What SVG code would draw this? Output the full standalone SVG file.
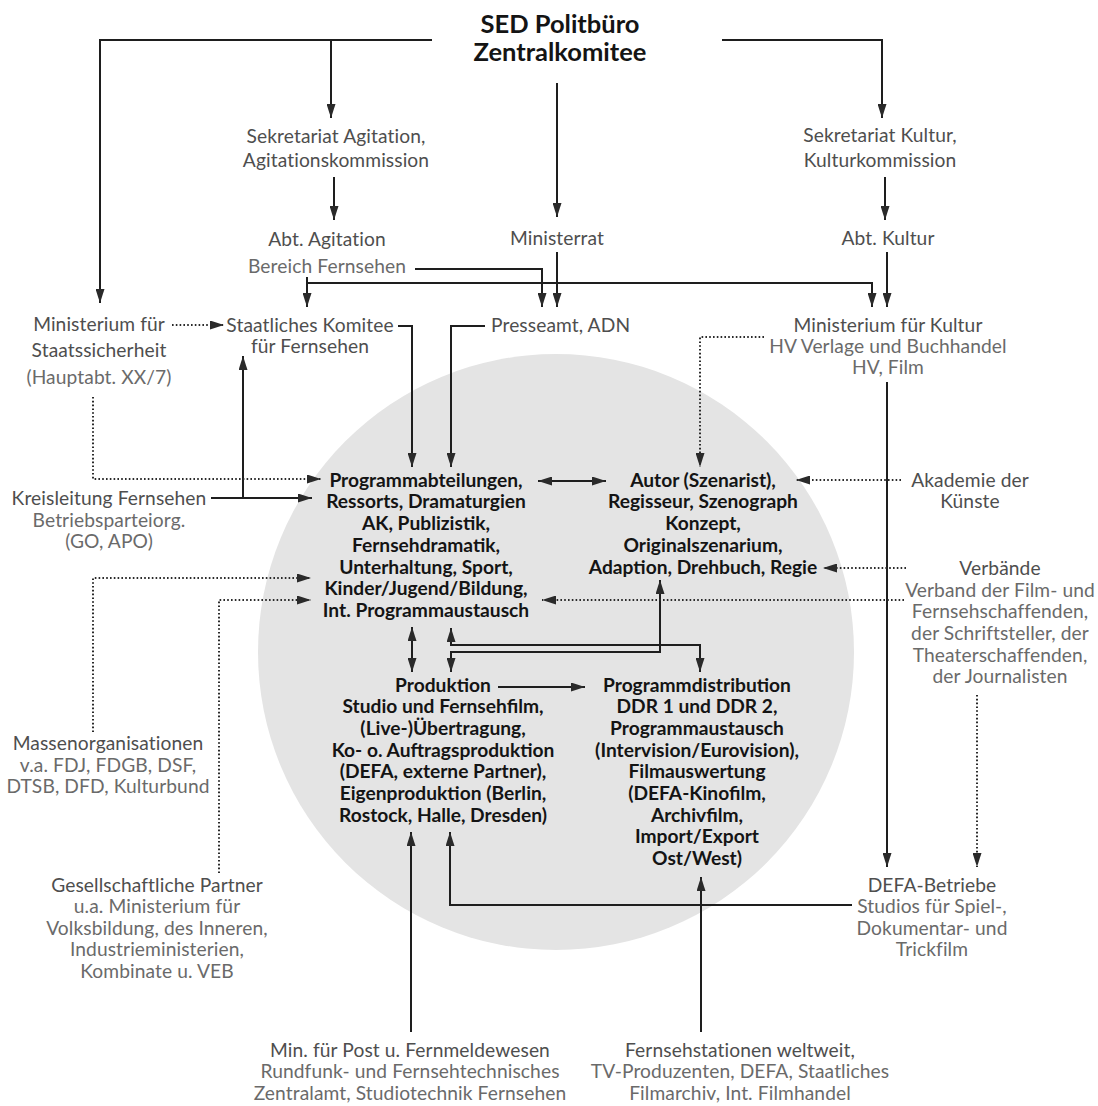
<svg xmlns="http://www.w3.org/2000/svg" width="1098" height="1106" viewBox="0 0 1098 1106">
<defs>
<style>
text{font-family:Lato,"Liberation Sans",sans-serif;text-anchor:middle}
.g{font-size:19.2px;fill:#4e4e4e;letter-spacing:0.1px}
.s{font-size:19.2px;fill:#6a6a6a;letter-spacing:0.1px}
.b{font-size:19.2px;font-weight:bold;fill:#141414}
.t{font-size:25.5px;font-weight:bold;fill:#141414}
.ln{fill:none;stroke:#1e1e1e;stroke-width:2}
.dt{fill:none;stroke:#2a2a2a;stroke-width:2;stroke-dasharray:1.6 2.2}
.a{marker-end:url(#ah)}
.aa{marker-start:url(#ah);marker-end:url(#ah)}
</style>
<marker id="ah" viewBox="0 0 14 10" refX="14" refY="5" markerWidth="14" markerHeight="9" markerUnits="userSpaceOnUse" orient="auto-start-reverse" preserveAspectRatio="none">
<path d="M0,0 L14,5 L0,10 z" fill="#2a2a2a"/>
</marker>
</defs>
<rect width="1098" height="1106" fill="#ffffff"/>
<circle cx="556" cy="652" r="298" fill="#e4e4e4"/>

<g id="connectors">
<path class="ln a" d="M432,40 H100 V303"/>
<path class="ln a" d="M331,40 V118"/>
<path class="ln a" d="M722,40 H882 V118"/>
<path class="ln a" d="M557,83 V217"/>
<path class="ln a" d="M334,177 V220"/>
<path class="ln a" d="M885,177 V220"/>
<path class="ln a" d="M415,269 H542 V307"/>
<path class="ln a" d="M557,252 V307"/>
<path class="ln a" d="M557,283 H307 V307"/>
<path class="ln" d="M307,277 V284"/>
<path class="ln a" d="M557,283 H872 V307"/>
<path class="ln a" d="M887,252 V307"/>
<path class="ln a" d="M398,326 H412 V467"/>
<path class="ln a" d="M485,326 H451 V467"/>
<path class="ln a" d="M211,498 H312"/>
<path class="ln a" d="M243,498 V356"/>
<path class="ln aa" d="M538,481 H606"/>
<path class="ln aa" d="M412,627 V672"/>
<path class="ln aa" d="M451,628 V645 H700 V672"/>
<path class="ln aa" d="M451,672 V652 H660 V580"/>
<path class="ln a" d="M498,687 H585"/>
<path class="ln a" d="M852,905 H450 V832"/>
<path class="ln a" d="M411,1032 V832"/>
<path class="ln a" d="M701,1032 V877"/>
<path class="ln a" d="M887,382 V867"/>
<path class="dt a" d="M172,325 H224"/>
<path class="dt a" d="M93,397 V479 H321"/>
<path class="dt a" d="M93,732 V578 H311"/>
<path class="dt a" d="M219,873 V600 H311"/>
<path class="dt a" d="M764,337 H700 V467"/>
<path class="dt a" d="M901,480 H796"/>
<path class="dt a" d="M906,568 H823"/>
<path class="dt a" d="M904,600 H542"/>
<path class="dt a" d="M977,695 V867"/>
</g>

<g id="politbuero">
<text class="t" x="560" y="33">SED Politbüro</text>
<text class="t" x="560" y="61">Zentralkomitee</text>
</g>
<g id="sek-agitation">
<text class="g" x="336" y="143">Sekretariat Agitation,</text>
<text class="g" x="336" y="167">Agitationskommission</text>
</g>
<g id="abt-agitation">
<text class="g" x="327" y="246">Abt. Agitation</text>
<text class="s" x="327" y="273">Bereich Fernsehen</text>
</g>
<g id="ministerrat">
<text class="g" x="557" y="245">Ministerrat</text>
</g>
<g id="sek-kultur">
<text class="g" x="880" y="142">Sekretariat Kultur,</text>
<text class="g" x="880" y="167">Kulturkommission</text>
</g>
<g id="abt-kultur">
<text class="g" x="888" y="245">Abt. Kultur</text>
</g>
<g id="mfs">
<text class="g" x="99" y="331">Ministerium für</text>
<text class="g" x="99" y="357">Staatssicherheit</text>
<text class="s" x="99" y="384">(Hauptabt. XX/7)</text>
</g>
<g id="staatliches-komitee">
<text class="g" x="310" y="332">Staatliches Komitee</text>
<text class="g" x="310" y="353">für Fernsehen</text>
</g>
<g id="presseamt">
<text class="g" x="491" y="332" style="text-anchor:start">Presseamt, ADN</text>
</g>
<g id="min-kultur">
<text class="g" x="888" y="332">Ministerium für Kultur</text>
<text class="s" x="888" y="353">HV Verlage und Buchhandel</text>
<text class="s" x="888" y="374">HV, Film</text>
</g>
<g id="kreisleitung">
<text class="g" x="109" y="505">Kreisleitung Fernsehen</text>
<text class="s" x="109" y="527">Betriebsparteiorg.</text>
<text class="s" x="109" y="548">(GO, APO)</text>
</g>
<g id="programmabteilungen">
<text class="b" x="426" y="487">Programmabteilungen,</text>
<text class="b" x="426" y="508">Ressorts, Dramaturgien</text>
<text class="b" x="426" y="530">AK, Publizistik,</text>
<text class="b" x="426" y="552">Fernsehdramatik,</text>
<text class="b" x="426" y="574">Unterhaltung, Sport,</text>
<text class="b" x="426" y="595">Kinder/Jugend/Bildung,</text>
<text class="b" x="426" y="617">Int. Programmaustausch</text>
</g>
<g id="autor">
<text class="b" x="703" y="487">Autor (Szenarist),</text>
<text class="b" x="703" y="508">Regisseur, Szenograph</text>
<text class="b" x="703" y="530">Konzept,</text>
<text class="b" x="703" y="552">Originalszenarium,</text>
<text class="b" x="703" y="574">Adaption, Drehbuch, Regie</text>
</g>
<g id="akademie">
<text class="g" x="970" y="487">Akademie der</text>
<text class="g" x="970" y="508">Künste</text>
</g>
<g id="verbaende">
<text class="g" x="1000" y="575">Verbände</text>
<text class="s" x="1000" y="597">Verband der Film- und</text>
<text class="s" x="1000" y="618">Fernsehschaffenden,</text>
<text class="s" x="1000" y="640">der Schriftsteller, der</text>
<text class="s" x="1000" y="662">Theaterschaffenden,</text>
<text class="s" x="1000" y="683">der Journalisten</text>
</g>
<g id="produktion">
<text class="b" x="443" y="692">Produktion</text>
<text class="b" x="443" y="713">Studio und Fernsehfilm,</text>
<text class="b" x="443" y="735">(Live-)Übertragung,</text>
<text class="b" x="443" y="757">Ko- o. Auftragsproduktion</text>
<text class="b" x="443" y="778">(DEFA, externe Partner),</text>
<text class="b" x="443" y="800">Eigenproduktion (Berlin,</text>
<text class="b" x="443" y="822">Rostock, Halle, Dresden)</text>
</g>
<g id="programmdistribution">
<text class="b" x="697" y="692">Programmdistribution</text>
<text class="b" x="697" y="713">DDR 1 und DDR 2,</text>
<text class="b" x="697" y="735">Programmaustausch</text>
<text class="b" x="697" y="757">(Intervision/Eurovision),</text>
<text class="b" x="697" y="778">Filmauswertung</text>
<text class="b" x="697" y="800">(DEFA-Kinofilm,</text>
<text class="b" x="697" y="822">Archivfilm,</text>
<text class="b" x="697" y="843">Import/Export</text>
<text class="b" x="697" y="865">Ost/West)</text>
</g>
<g id="massenorganisationen">
<text class="g" x="108" y="750">Massenorganisationen</text>
<text class="s" x="108" y="772">v.a. FDJ, FDGB, DSF,</text>
<text class="s" x="108" y="793">DTSB, DFD, Kulturbund</text>
</g>
<g id="gesellschaftliche-partner">
<text class="g" x="157" y="892">Gesellschaftliche Partner</text>
<text class="s" x="157" y="913">u.a. Ministerium für</text>
<text class="s" x="157" y="935">Volksbildung, des Inneren,</text>
<text class="s" x="157" y="956">Industrieministerien,</text>
<text class="s" x="157" y="978">Kombinate u. VEB</text>
</g>
<g id="defa">
<text class="g" x="932" y="892">DEFA-Betriebe</text>
<text class="s" x="932" y="913">Studios für Spiel-,</text>
<text class="s" x="932" y="935">Dokumentar- und</text>
<text class="s" x="932" y="956">Trickfilm</text>
</g>
<g id="min-post">
<text class="g" x="410" y="1057">Min. für Post u. Fernmeldewesen</text>
<text class="s" x="410" y="1078">Rundfunk- und Fernsehtechnisches</text>
<text class="s" x="410" y="1100">Zentralamt, Studiotechnik Fernsehen</text>
</g>
<g id="fernsehstationen">
<text class="g" x="740" y="1057">Fernsehstationen weltweit,</text>
<text class="s" x="740" y="1078">TV-Produzenten, DEFA, Staatliches</text>
<text class="s" x="740" y="1100">Filmarchiv, Int. Filmhandel</text>
</g>
</svg>
